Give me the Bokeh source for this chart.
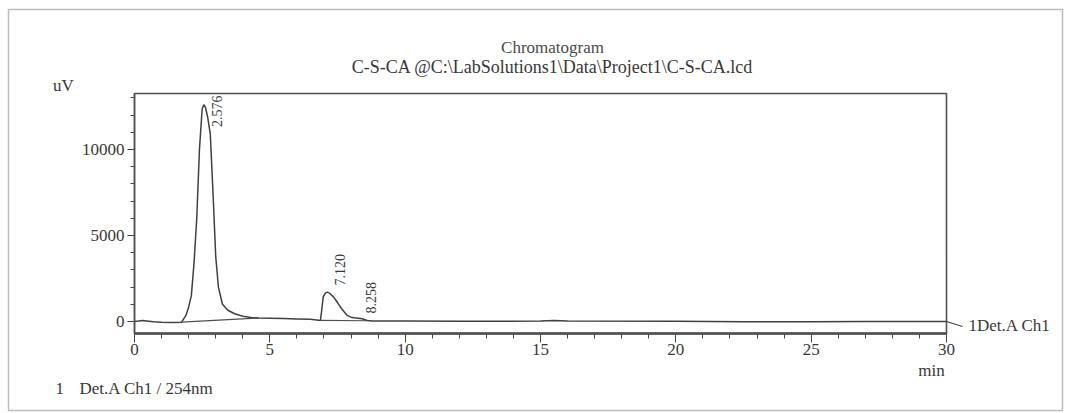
from bokeh.plotting import figure
from bokeh.models import Range1d, Label, Arrow, SingleIntervalTicker, BoxAnnotation
from bokeh.embed import file_html
from bokeh.resources import INLINE
import math

# ---- data ----
time_min = [0.0, 0.15, 0.3, 0.45, 0.7, 1.0, 1.4, 1.74, 1.9, 2.0, 2.1, 2.2, 2.3, 2.4,
            2.5, 2.56, 2.62, 2.7, 2.8, 2.9, 3.0, 3.1, 3.25, 3.45, 3.7, 4.0, 4.3, 4.6,
            5.0, 5.5, 6.0, 6.5, 6.87, 6.92, 6.97, 7.05, 7.12, 7.2, 7.36, 7.5, 7.61,
            7.75, 7.86, 8.0, 8.1, 8.26, 8.41, 8.6, 8.8, 9.0, 10.0, 12.0, 15.0, 15.5,
            16.0, 20.0, 22.5, 25.0, 27.0, 30.0]
signal_uv = [0, 20, 60, 30, -20, -50, -60, -40, 350, 830, 1500, 3400, 6000, 10000,
             12350, 12600, 12450, 11900, 10900, 7500, 3800, 2000, 1000, 650, 450, 300,
             230, 200, 190, 170, 150, 130, 60, 700, 1413, 1650, 1705, 1650, 1413, 1100,
             830, 550, 350, 250, 215, 190, 157, 58, 20, 25, 20, 10, 20, 60, 20, 10,
             -10, -15, 0, 0]

baseline1_t = [1.74, 4.6]
baseline1_y = [-40, 200]
baseline2_t = [6.87, 8.6]
baseline2_y = [60, 40]

peak_rt = [2.576, 7.120, 8.258]
peak_label = ["2.576", "7.120", "8.258"]
peak_label_y = [11300, 2090, 465]

x_min, x_max = 0, 30
y_min, y_max = -700, 13250
x_ticks_interval = 5
y_ticks_interval = 5000

FONT = "Liberation Serif"
INK = "#383838"
W, H = 1064, 412

# page layout: plot box occupies pixels x 134..946, y 93..333 of the page
FX0, FX1, FY0, FY1 = 134, 946, 93, 333
XS = (FX1 - FX0) / (x_max - x_min)      # px per minute
YS = (y_max - y_min) / (FY1 - FY0)      # uV per px

def dx(px):
    return x_min + (px - FX0) / XS

def dy(py):
    return y_max - (py - FY0) * YS

p = figure(width=W, height=H, x_range=Range1d(dx(0), dx(W)), y_range=Range1d(dy(H), dy(0)),
           output_backend="svg", toolbar_location=None, title=None,
           min_border=0, min_border_left=0, min_border_right=0,
           min_border_top=0, min_border_bottom=0)

p.xgrid.visible = False
p.ygrid.visible = False
p.outline_line_color = None
p.background_fill_color = "white"
p.border_fill_color = "white"

# axes drawn at the plot box edges
p.xaxis.fixed_location = y_min
p.yaxis.fixed_location = x_min
p.xaxis.bounds = (x_min, x_max)
p.yaxis.bounds = (y_min, y_max)
p.xaxis.ticker = SingleIntervalTicker(interval=x_ticks_interval, num_minor_ticks=5)
p.yaxis.ticker = SingleIntervalTicker(interval=y_ticks_interval, num_minor_ticks=5)
for ax in (p.xaxis[0], p.yaxis[0]):
    ax.axis_line_color = "#444444"
    ax.major_tick_line_color = "#444444"
    ax.minor_tick_line_color = "#444444"
    ax.major_tick_in = 0
    ax.minor_tick_in = 0
    ax.major_label_text_font = FONT
    ax.major_label_text_font_size = "17px"
    ax.major_label_text_color = INK
p.xaxis.axis_line_width = 2.4
p.xaxis.major_tick_out = 9
p.xaxis.minor_tick_out = 5
p.xaxis.major_label_standoff = 1
p.yaxis.axis_line_width = 1.4
p.yaxis.major_tick_out = 7
p.yaxis.minor_tick_out = 4
p.yaxis.major_label_standoff = 3

# plot box (top and right edges)
p.add_layout(BoxAnnotation(left=x_min, right=x_max, bottom=y_min, top=y_max,
                           fill_alpha=0, line_alpha=1, line_color="#505050",
                           line_width=1.6))

# outer frame of the printout
p.add_layout(BoxAnnotation(left=dx(8), right=dx(1062), top=dy(9), bottom=dy(410),
                           fill_alpha=0, line_alpha=1, line_color="#bdbdbd",
                           line_width=1.5))

# trace and integration baselines
p.line(time_min, signal_uv, line_color="#404040", line_width=1.5)
p.line(baseline1_t, baseline1_y, line_color="#505050", line_width=1.2)
p.line(baseline2_t, baseline2_y, line_color="#505050", line_width=1.2)

# retention time labels (rotated, reading upward)
for rt, lab, ly in zip(peak_rt, peak_label, peak_label_y):
    p.add_layout(Label(x=rt, y=ly, text=lab, angle=math.pi / 2, x_offset=13,
                       text_align="left", text_baseline="middle",
                       text_font=FONT, text_font_size="14px", text_color=INK))

# titles and annotations
def lab(px, py, text, align="center", size="17px", color=INK):
    p.add_layout(Label(x=dx(px), y=dy(py), text=text, text_align=align,
                       text_baseline="middle",
                       text_font=FONT, text_font_size=size, text_color=color))

lab(552, 47, "Chromatogram", size="17px", color="#4a4a4a")
lab(552, 66, "C-S-CA @C:\\LabSolutions1\\Data\\Project1\\C-S-CA.lcd", size="18px")
lab(63, 85, "uV")
lab(931, 370, "min")
lab(55, 388, "1", align="left")
lab(79, 388, "Det.A Ch1 / 254nm", align="left")
lab(968, 325, "1Det.A Ch1", align="left")

p.add_layout(Arrow(end=None, x_start=x_max, y_start=signal_uv[-1],
                   x_end=dx(962), y_end=dy(326),
                   line_color="#444444", line_width=1.2))

open("out.html", "w").write(file_html(p, INLINE))
